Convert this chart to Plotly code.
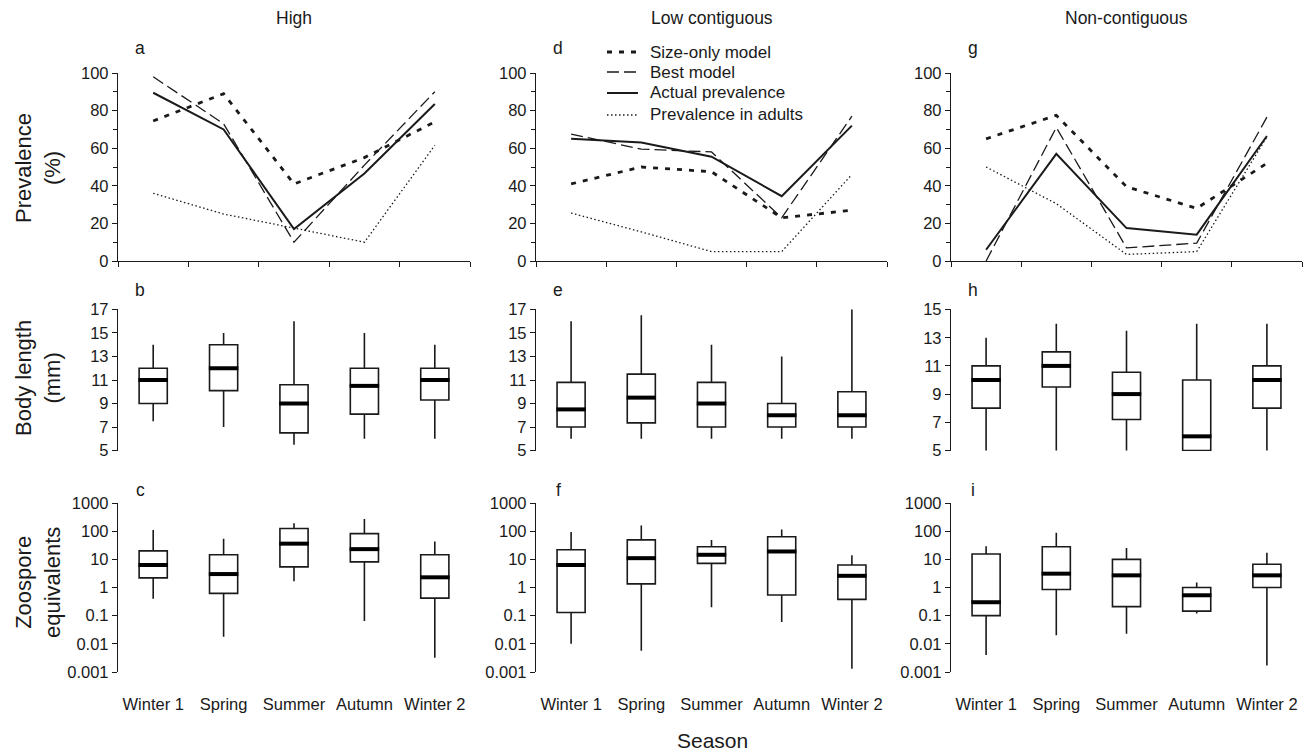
import plotly.graph_objects as go

# ---------------- data ----------------
seasons = ["Winter 1", "Spring", "Summer", "Autumn", "Winter 2"]
habitats = ["High", "Low contiguous", "Non-contiguous"]
panel_letters = [["a", "d", "g"], ["b", "e", "h"], ["c", "f", "i"]]

# Prevalence (%) lines
size_only_high = [74.5, 89, 41, 55, 74]
size_only_low = [41, 50, 47.5, 23, 27]
size_only_non = [65, 77.5, 39.5, 28, 52]

best_high = [98, 73, 10, 51, 90]
best_low = [67.5, 59.5, 58, 23, 77]
best_non = [0, 71, 7, 9.5, 76.5]

actual_high = [89.5, 70, 17, 46.5, 83.5]
actual_low = [65, 63, 55.5, 34.5, 72]
actual_non = [6, 57, 17.5, 14, 66.5]

adults_high = [36, 25, 17.5, 10, 61.5]
adults_low = [25.5, 15.5, 5, 5, 46]
adults_non = [50, 30.5, 3.5, 5, 66]

# Body length (mm) box statistics
len_high_hi = [14, 15, 16, 15, 14]
len_high_q3 = [12, 14, 10.6, 12, 12]
len_high_med = [11, 12, 9, 10.5, 11]
len_high_q1 = [9, 10.1, 6.5, 8.1, 9.3]
len_high_lo = [7.5, 7, 5.5, 6, 6]

len_low_hi = [16, 16.5, 14, 13, 17]
len_low_q3 = [10.8, 11.5, 10.8, 9, 10]
len_low_med = [8.5, 9.5, 9, 8, 8]
len_low_q1 = [7, 7.35, 7, 7, 7]
len_low_lo = [6, 6, 6, 6, 6]

len_non_hi = [13, 14, 13.5, 14, 14]
len_non_q3 = [11, 12, 10.55, 10, 11]
len_non_med = [10, 11, 9, 6, 10]
len_non_q1 = [8, 9.5, 7.2, 5, 8]
len_non_lo = [5, 5, 5, 5, 5]

# Zoospore equivalents box statistics
zoo_high_hi = [110, 54, 190, 270, 43]
zoo_high_q3 = [20, 14.5, 125, 82, 14.5]
zoo_high_med = [6.3, 3, 36, 23, 2.3]
zoo_high_q1 = [2.2, 0.62, 5.4, 8.1, 0.42]
zoo_high_lo = [0.4, 0.018, 1.65, 0.065, 0.0032]

zoo_low_hi = [93, 160, 49, 115, 14]
zoo_low_q3 = [22, 49, 28, 63, 6.3]
zoo_low_med = [6.3, 11, 14.5, 19, 2.6]
zoo_low_q1 = [0.13, 1.35, 7.2, 0.54, 0.38]
zoo_low_lo = [0.01, 0.0057, 0.2, 0.059, 0.0013]

zoo_non_hi = [29, 87, 25, 1.5, 17]
zoo_non_q3 = [15.4, 28, 10, 1.0, 6.7]
zoo_non_med = [0.3, 3.1, 2.7, 0.53, 2.7]
zoo_non_q1 = [0.1, 0.85, 0.21, 0.145, 1.0]
zoo_non_lo = [0.004, 0.02, 0.023, 0.12, 0.0017]

len_ticks = [[5, 7, 9, 11, 13, 15, 17], [5, 7, 9, 11, 13, 15, 17], [5, 7, 9, 11, 13, 15]]
zoo_ticks = [0.001, 0.01, 0.1, 1, 10, 100, 1000]
zoo_tick_text = ["0.001", "0.01", "0.1", "1", "10", "100", "1000"]

series_names = ["Size-only model", "Best model", "Actual prevalence", "Prevalence in adults"]

# ---------------- layout helpers ----------------
OFF = 8                      # default body margin of the html page
W, H = 1312 - OFF, 753 - OFF
FONT = "Liberation Sans, Arial, sans-serif"
INK = "#1a1a1a"
col_px = [(118, 470), (536, 887), (951, 1302)]
row_px = [(73, 261), (309, 451), (503, 672)]


def px_x(p):
    return (p - OFF) / W


def px_y(p):
    return 1 - (p - OFF) / H


def xd(c):
    return [px_x(col_px[c][0]), px_x(col_px[c][1])]


def yd(r):
    return [px_y(row_px[r][1]), px_y(row_px[r][0])]


def axn(r, c):
    return r * 3 + c + 1


def xref(n):
    return "x" if n == 1 else f"x{n}"


def yref(n):
    return "y" if n == 1 else f"y{n}"


def xkey(n):
    return "xaxis" if n == 1 else f"xaxis{n}"


def ykey(n):
    return "yaxis" if n == 1 else f"yaxis{n}"


fig = go.Figure()
xpos = list(range(len(seasons)))

series_styles = [
    dict(width=2.8, dash="5px,7px"),
    dict(width=1.3, dash="12px,5px"),
    dict(width=2.0, dash="solid"),
    dict(width=1.3, dash="1.5px,2.5px"),
]
prev_data = [
    [size_only_high, best_high, actual_high, adults_high],
    [size_only_low, best_low, actual_low, adults_low],
    [size_only_non, best_non, actual_non, adults_non],
]
len_data = [
    (len_high_lo, len_high_q1, len_high_med, len_high_q3, len_high_hi),
    (len_low_lo, len_low_q1, len_low_med, len_low_q3, len_low_hi),
    (len_non_lo, len_non_q1, len_non_med, len_non_q3, len_non_hi),
]
zoo_data = [
    (zoo_high_lo, zoo_high_q1, zoo_high_med, zoo_high_q3, zoo_high_hi),
    (zoo_low_lo, zoo_low_q1, zoo_low_med, zoo_low_q3, zoo_low_hi),
    (zoo_non_lo, zoo_non_q1, zoo_non_med, zoo_non_q3, zoo_non_hi),
]

# top row: prevalence lines
for c in range(3):
    n = axn(0, c)
    for s, name in enumerate(series_names):
        st = series_styles[s]
        fig.add_trace(go.Scatter(
            x=xpos, y=prev_data[c][s], mode="lines", name=name,
            line=dict(color=INK, width=st["width"], dash=st["dash"]),
            showlegend=False, xaxis=xref(n), yaxis=yref(n), cliponaxis=False,
        ))

BOX_W = 0.4


def add_boxes(r, c, stats):
    n = axn(r, c)
    lo, q1, med, q3, hi = stats
    fig.add_trace(go.Box(
        x=xpos, lowerfence=lo, q1=q1, median=med, q3=q3, upperfence=hi,
        width=BOX_W, whiskerwidth=0, boxpoints=False,
        line=dict(color=INK, width=1.6), fillcolor="white",
        showlegend=False, hoverinfo="skip",
        xaxis=xref(n), yaxis=yref(n),
    ))
    mx, my = [], []
    for i, m in zip(xpos, med):
        mx += [i - BOX_W / 2 - 0.01, i + BOX_W / 2 + 0.01, None]
        my += [m, m, None]
    fig.add_trace(go.Scatter(
        x=mx, y=my, mode="lines", line=dict(color="black", width=4),
        showlegend=False, hoverinfo="skip", xaxis=xref(n), yaxis=yref(n),
    ))


for c in range(3):
    add_boxes(1, c, len_data[c])
    add_boxes(2, c, zoo_data[c])

# ---------------- axes ----------------
tickfont = dict(family=FONT, size=16.5, color=INK)
layout_axes = {}
for r in range(3):
    for c in range(3):
        n = axn(r, c)
        xa = dict(domain=xd(c), anchor=yref(n), range=[-0.5, 4.5], showgrid=False,
                  zeroline=False, fixedrange=True, tickfont=tickfont, automargin=False)
        ya = dict(domain=yd(r), anchor=xref(n), showgrid=False, zeroline=False,
                  showline=True, linecolor=INK, linewidth=1.4, ticks="outside",
                  ticklen=5, tickwidth=1.4, tickcolor=INK, tickfont=tickfont,
                  fixedrange=True, automargin=False)
        if r == 0:
            xa.update(showline=True, linecolor=INK, linewidth=1.4, ticks="outside",
                      ticklen=5, tickwidth=1.4, tickcolor=INK,
                      tickvals=[-0.5, 0.5, 1.5, 2.5, 3.5, 4.5], showticklabels=False)
            ya.update(range=[0, 100], tick0=0, dtick=20,
                      minor=dict(ticks="outside", ticklen=4, tickwidth=1.4,
                                 tickcolor=INK, dtick=10, tick0=0, showgrid=False))
        elif r == 1:
            xa.update(showline=False, ticks="", showticklabels=False)
            ya.update(range=[len_ticks[c][0] - 0.04, len_ticks[c][-1] + 0.04],
                      tickvals=len_ticks[c])
        else:
            xa.update(showline=False, ticks="", tickvals=xpos, ticktext=seasons,
                      ticklabelstandoff=20)
            ya.update(type="log", range=[-3, 3], tickvals=zoo_ticks, ticktext=zoo_tick_text)
        layout_axes[xkey(n)] = xa
        layout_axes[ykey(n)] = ya

fig.update_layout(**layout_axes)

# ---------------- annotations ----------------
ann = []


def add_text(text, x, y, size, xanchor="center", angle=0):
    ann.append(dict(text=text, x=px_x(x), y=px_y(y), xref="paper", yref="paper",
                    showarrow=False, xanchor=xanchor, yanchor="middle", textangle=angle,
                    font=dict(family=FONT, size=size, color=INK)))


for c in range(3):
    add_text(habitats[c], (col_px[c][0] + col_px[c][1]) / 2, 18, 17.5)
letter_y = [48, 290, 490]
for r in range(3):
    for c in range(3):
        add_text(panel_letters[r][c], col_px[c][0] + 22, letter_y[r], 17.5)
ytitles = ["Prevalence<br>(%)", "Body length<br>(mm)", "Zoospore<br>equivalents"]
ytitle_y = [168, 378, 583]
for r in range(3):
    add_text(ytitles[r], 38, ytitle_y[r], 22, angle=-90)
add_text("Season", 712, 740, 21)

# legend (drawn in panel d)
shapes = []
leg_x0, leg_x1, leg_tx = 607, 638, 648
leg_y = [52, 72, 93, 115]
for s, name in enumerate(series_names):
    st = series_styles[s]
    shapes.append(dict(type="line", xref="paper", yref="paper",
                       x0=px_x(leg_x0), x1=px_x(leg_x1), y0=px_y(leg_y[s]), y1=px_y(leg_y[s]),
                       line=dict(color=INK, width=st["width"], dash=st["dash"])))
    add_text(name, leg_tx, leg_y[s], 17, xanchor="left")

fig.update_layout(
    width=W, height=H, margin=dict(l=0, r=0, t=0, b=0, autoexpand=False),
    paper_bgcolor="white", plot_bgcolor="white",
    font=dict(family=FONT, color=INK),
    annotations=ann, shapes=shapes,
    showlegend=False,
)

fig.write_html("out.html")
